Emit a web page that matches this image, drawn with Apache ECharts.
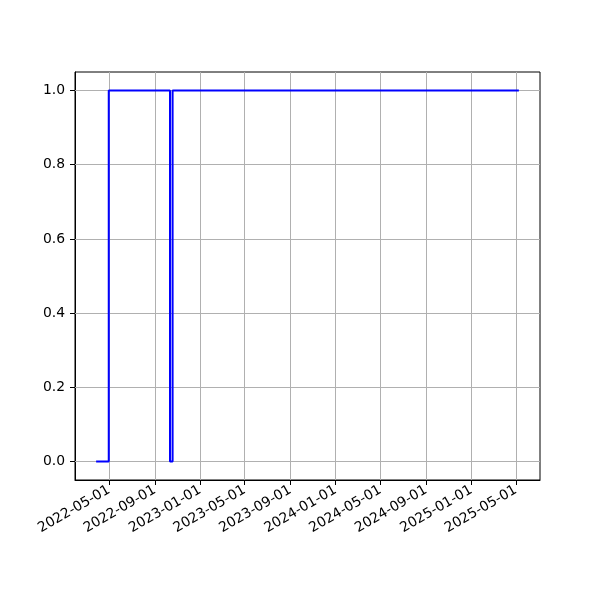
<!DOCTYPE html>
<html>
<head>
<meta charset="utf-8">
<script src="https://cdn.jsdelivr.net/npm/echarts@6/dist/echarts.min.js"></script>
<style>html,body{margin:0;padding:0;background:#fff}#c{width:600px;height:600px}</style>
</head>
<body>
<div id="c"></div>
<script>
// Step points (value holds until next date)
var dates = ['2022-03-27', '2022-04-30', '2022-10-12', '2022-10-19', '2025-05-09'];
var values = [0, 1, 0, 1, 1];
var xTickLabels = ['2022-05-01', '2022-09-01', '2023-01-01', '2023-05-01', '2023-09-01',
                   '2024-01-01', '2024-05-01', '2024-09-01', '2025-01-01', '2025-05-01'];
var yTicks = [0, 0.2, 0.4, 0.6, 0.8, 1.0];

function ts(s) { return new Date(s + 'T00:00:00').getTime(); }
function pad(n) { return n < 10 ? '0' + n : '' + n; }
function fmt(v) { var d = new Date(v); return d.getFullYear() + '-' + pad(d.getMonth() + 1) + '-' + pad(d.getDate()); }

var t0 = ts(dates[0]), t1 = ts(dates[dates.length - 1]);
var span = t1 - t0;
var xMin = t0 - span * 0.05, xMax = t1 + span * 0.05;
var tickVals = xTickLabels.map(ts);

var chart = echarts.init(document.getElementById('c'));
var font = 'DejaVu Sans';
chart.setOption({
  animation: false,
  grid: { left: 75, right: 60, top: 72, bottom: 120, show: true, borderColor: '#000', borderWidth: 1, containLabel: false },
  xAxis: {
    type: 'value', min: xMin, max: xMax, scale: true,
    axisLine: { show: true, onZero: false, lineStyle: { color: '#000', width: 1 } },
    axisTick: { show: true, length: 5, lineStyle: { color: '#000' }, customValues: tickVals },
    axisLabel: { customValues: tickVals, rotate: 30, color: '#000', fontFamily: font, fontSize: 13.9, margin: 9, formatter: function (v) { return fmt(v); }, showMinLabel: true, showMaxLabel: true, hideOverlap: false },
    splitLine: { show: false }
  },
  yAxis: {
    type: 'value', min: -0.05, max: 1.05,
    axisLine: { show: true, onZero: false, lineStyle: { color: '#000', width: 1 } },
    axisTick: { show: true, length: 5, lineStyle: { color: '#000' }, customValues: yTicks },
    axisLabel: { customValues: yTicks, color: '#000', fontFamily: font, fontSize: 13.9, margin: 10, formatter: function (v) { return v.toFixed(1); } },
    splitLine: { show: false }
  },
  series: [
    {
      type: 'line', step: 'end', symbol: 'none',
      data: dates.map(function (d, i) { return [ts(d), values[i]]; }),
      lineStyle: { color: '#0000ff', width: 2 },
      z: 5,
      markLine: {
        silent: true, symbol: 'none', label: { show: false }, animation: false,
        lineStyle: { color: '#b0b0b0', width: 1, type: 'solid' },
        data: tickVals.map(function (t) { return { xAxis: t }; }).concat(yTicks.map(function (y) { return { yAxis: y }; }))
      }
    }
  ]
});
</script>
</body>
</html>
